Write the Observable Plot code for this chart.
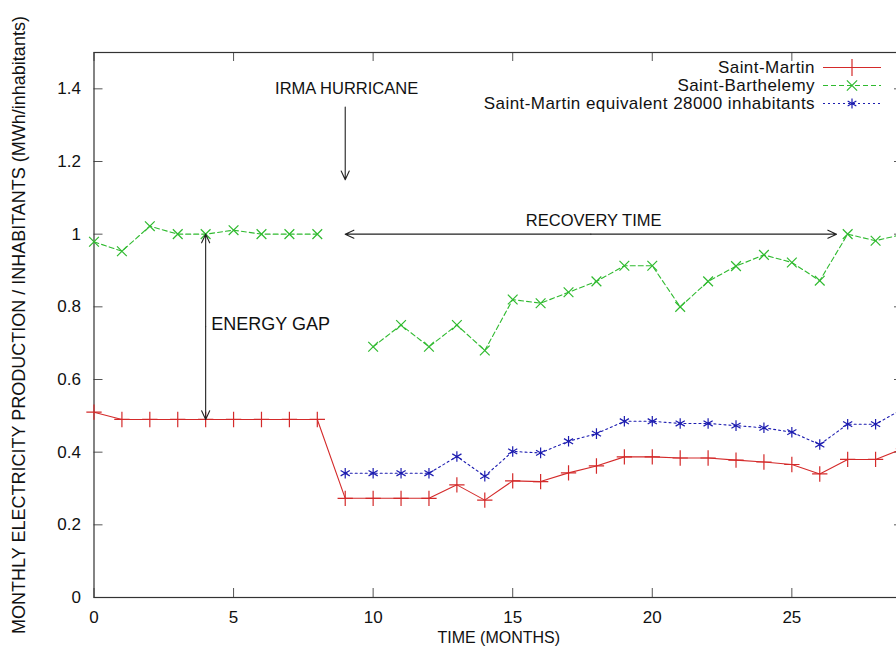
<!DOCTYPE html>
<html><head><meta charset="utf-8">
<script src="https://cdn.jsdelivr.net/npm/d3@7"></script>
<script src="https://cdn.jsdelivr.net/npm/@observablehq/plot@0.6"></script>
<style>
html,body{margin:0;padding:0;background:#fff;overflow:hidden;}
#wrap{position:relative;width:896px;height:648px;overflow:hidden;font-family:"Liberation Sans",Arial,sans-serif;}
#wrap svg{display:block;max-width:none !important;}
.lg-row{position:absolute;left:0;height:17px;width:900px;}
.lg-text{position:absolute;right:85px;top:0;line-height:17px;font-size:17px;letter-spacing:0.45px;color:#111;white-space:nowrap;}
.lg-svg{position:absolute;left:821px;top:0;}
</style></head><body><div id="wrap"></div>
<script>
// ---- data ----
const months = [0,1,2,3,4,5,6,7,8,9,10,11,12,13,14,15,16,17,18,19,20,21,22,23,24,25,26,27,28,29];
const saintMartin = [0.51,0.49,0.49,0.49,0.49,0.49,0.49,0.49,0.49,0.273,0.273,0.273,0.273,0.31,0.268,0.321,0.319,0.343,0.362,0.387,0.387,0.384,0.384,0.378,0.373,0.366,0.34,0.38,0.38,0.41];
const saintBarth = [0.979,0.953,1.022,1.0,1.0,1.011,1.0,1.0,1.0,null,0.69,0.75,0.69,0.75,0.68,0.82,0.81,0.84,0.87,0.913,0.913,0.80,0.87,0.912,0.943,0.922,0.872,1.0,0.982,1.0];
const eqMonths = [9,10,11,12,13,14,15,16,17,18,19,20,21,22,23,24,25,26,27,28,29];
const saintMartinEq = [0.342,0.342,0.342,0.342,0.388,0.334,0.402,0.398,0.43,0.451,0.485,0.485,0.479,0.479,0.473,0.467,0.455,0.421,0.477,0.477,0.52];

const seriesNames = ["Saint-Martin","Saint-Barthelemy","Saint-Martin equivalent 28000 inhabitants"];
const seriesColors = ["#d42a2a","#2fba2f","#1c1cb0"];
const seriesSymbols = ["plus","times","asterisk"];
const seriesDash = [null,"5,3","2,3"];

const xTicks = [0,5,10,15,20,25];
const yTicks = [0,0.2,0.4,0.6,0.8,1,1.2,1.4];
const xLabel = "TIME (MONTHS)";
const yLabel = "MONTHLY ELECTRICITY PRODUCTION / INHABITANTS (MWh/inhabitants)";

// annotations
const centeredNotes = [
  {text:"IRMA HURRICANE", x:9.05, y:1.4},
  {text:"RECOVERY TIME", x:17.9, y:1.036}
];
const leftNotes = [
  {text:"ENERGY GAP", x:4.2, y:0.752}
];
const annoArrows = [
  {x1:9, y1:1.35, x2:9, y2:1.15, double:false},
  {x1:9, y1:1.0, x2:26.6, y2:1.0, double:true},
  {x1:4, y1:1.0, x2:4, y2:0.49, double:true}
];

// ---- build ----
const sm = months.map((m,i)=>({x:m, y:saintMartin[i]}));
const sb = months.map((m,i)=>({x:m, y:saintBarth[i]}));
const se = eqMonths.map((m,i)=>({x:m, y:saintMartinEq[i]}));
const all = [sm, sb, se];

const arrowSegs = [];
for (const a of annoArrows) {
  if (a.double) {
    const mx=(a.x1+a.x2)/2, my=(a.y1+a.y2)/2;
    arrowSegs.push({x1:mx,y1:my,x2:a.x1,y2:a.y1});
    arrowSegs.push({x1:mx,y1:my,x2:a.x2,y2:a.y2});
  } else arrowSegs.push(a);
}

const W=930, H=648, mL=93.5, mR=27, mT=52, mB=51;
const fw=W-mL-mR, fh=H-mT-mB, tk=9;
const fmt = d => String(+d.toFixed(1));

const seriesMarks = [];
all.forEach((data,i)=>{
  seriesMarks.push(Plot.line(data,{x:"x",y:"y",stroke:seriesColors[i],strokeWidth:1.1,strokeDasharray:seriesDash[i]}));
  seriesMarks.push(Plot.dot(data.filter(d=>d.y!=null),{x:"x",y:"y",symbol:seriesSymbols[i],stroke:seriesColors[i],fill:"none",r:i===0?5:(i===2?5:4.5),strokeWidth:1.2}));
});

const plot = Plot.plot({
  width:W, height:H, marginLeft:mL, marginRight:mR, marginTop:mT, marginBottom:mB,
  x:{domain:[0,29]}, y:{domain:[0,1.5]},
  style:{fontFamily:'"Liberation Sans",Arial,sans-serif', fontSize:"16px", color:"#111", background:"#fff", maxWidth:"none"},
  marks:[
    Plot.axisX({ticks:xTicks, tickSize:0, tickPadding:13, label:null, fontSize:17}),
    Plot.axisY({ticks:yTicks, tickSize:0, tickPadding:13, tickFormat:fmt, label:null, fontSize:17}),
    Plot.tickX(xTicks,{x:d=>d, insetTop:fh-tk, stroke:"#555"}),
    Plot.tickX(xTicks,{x:d=>d, insetBottom:fh-tk, stroke:"#555"}),
    Plot.tickY(yTicks,{y:d=>d, insetRight:fw-tk, stroke:"#555"}),
    Plot.tickY(yTicks,{y:d=>d, insetLeft:fw-tk, stroke:"#555"}),
    Plot.frame({stroke:"#333", strokeWidth:1.2}),
    ...seriesMarks,
    Plot.arrow(arrowSegs,{x1:"x1",y1:"y1",x2:"x2",y2:"y2",stroke:"#222",strokeWidth:1.1,headAngle:50,headLength:13}),
    Plot.text(centeredNotes,{x:"x",y:"y",text:"text",textAnchor:"middle",fontSize:16.5,fill:"#111"}),
    Plot.text(leftNotes,{x:"x",y:"y",text:"text",textAnchor:"start",fontSize:18,fill:"#111"}),
    Plot.text([yLabel],{frameAnchor:"left",textAnchor:"middle",rotate:-90,dx:-75,fontSize:18,fill:"#111"}),
    Plot.text([xLabel],{frameAnchor:"bottom",textAnchor:"middle",lineAnchor:"middle",dy:40,fontSize:16,fill:"#111"})
  ]
});
const wrap = document.getElementById("wrap");
wrap.appendChild(plot);

// legend (inside plot, top right)
const rowTops = [59, 77, 95];
seriesNames.forEach((name,i)=>{
  const row = document.createElement("div");
  row.className="lg-row"; row.style.top=rowTops[i]+"px";
  const t = document.createElement("span"); t.className="lg-text"; t.textContent=name;
  row.appendChild(t);
  const s = d3.create("svg").attr("class","lg-svg").attr("width",62).attr("height",17);
  s.append("line").attr("x1",2).attr("x2",60).attr("y1",8.5).attr("y2",8.5)
    .attr("stroke",seriesColors[i]).attr("stroke-width",1.1).attr("stroke-dasharray",seriesDash[i]);
  const sym = d3.symbol().type({plus:d3.symbolPlus,times:d3.symbolTimes,asterisk:d3.symbolAsterisk}[seriesSymbols[i]]).size(i===0?100:70);
  s.append("path").attr("d",sym()).attr("transform","translate(31,8.5)").attr("fill","none").attr("stroke",seriesColors[i]).attr("stroke-width",1.2);
  row.appendChild(s.node());
  wrap.appendChild(row);
});
</script></body></html>
